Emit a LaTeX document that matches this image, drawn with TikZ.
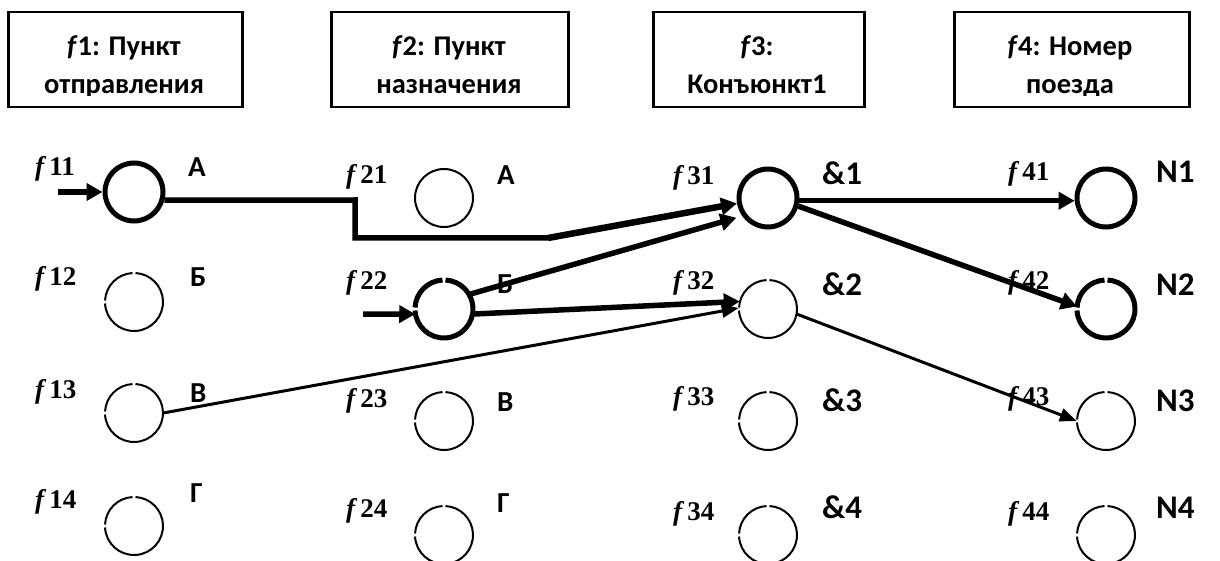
\documentclass[tikz,border=0pt]{standalone}
\usepackage{fontspec}
\setmainfont{Liberation Serif}
\newfontfamily\hdrfont{Carlito}
\usetikzlibrary{arrows.meta}
\newcommand{\gapcircle}[3]{%
  \node[circ] (#1) at (#2) {};
  \draw[line width=#3] ([shift={(93:29)}]#1.center) arc[start angle=93,end angle=177,radius=29];
  \draw[line width=#3] ([shift={(183:29)}]#1.center) arc[start angle=183,end angle=447,radius=29];
}
\newcommand{\fl}[1]{\kern2pt\textit{f}\kern3pt#1}
\begin{document}
\begin{tikzpicture}[x=1pt,y=1pt,
  boxst/.style={draw,line width=2.5pt,minimum height=95pt,inner sep=0pt,anchor=north west},
  hdr/.style={font=\hdrfont\bfseries\fontsize{28.5}{32}\selectfont,inner sep=0pt,anchor=base},
  flbl/.style={font=\bfseries\fontsize{27}{30}\selectfont,inner sep=0pt,anchor=base west},
  let/.style={font=\hdrfont\bfseries\fontsize{29}{32}\selectfont,inner sep=0pt,anchor=base west},
  bigl/.style={font=\hdrfont\bfseries\fontsize{33}{36}\selectfont,inner sep=0pt,anchor=base west},
  circ/.style={circle,minimum size=58pt,inner sep=0pt},
  thickcirc/.style={circ,draw,line width=5pt},
  thincirc/.style={circ,draw,line width=2pt},
  bigarrow/.style={line width=5.5pt,-{Triangle[length=16pt,width=17pt]}},
  smallarrow/.style={line width=3pt,-{Triangle[length=17pt,width=13pt]}},
  route/.style={line width=5.5pt}
]
\useasboundingbox (0,0) rectangle (1220,-561);

% header boxes
\node[boxst,minimum width=234pt] (box1) at (7,-11) {};
\node[boxst,minimum width=237pt] (box2) at (330,-11) {};
\node[boxst,minimum width=211pt] (box3) at (652,-11) {};
\node[boxst,minimum width=235pt] (box4) at (953,-11) {};
\begin{scope}
\clip (0,-11) rectangle (1220,-96);
\node[hdr] (h1a) at (124,-56) {\textit{f}1: Пункт};
\node[hdr] (h1b) at (124,-94) {отправления};
\node[hdr] (h2a) at (449,-56) {\textit{f}2: Пункт};
\node[hdr] (h2b) at (449,-94) {назначения};
\node[hdr] (h3a) at (757,-56) {\textit{f}3:};
\node[hdr] (h3b) at (757,-94) {Конъюнкт1};
\node[hdr] (h4a) at (1070,-56) {\textit{f}4: Номер};
\node[hdr] (h4b) at (1070,-94) {поезда};
\end{scope}

% circles
\node[thickcirc] (c11) at (134,-192) {};
\gapcircle{c12}{134,-302}{2pt}
\gapcircle{c13}{134,-413}{2pt}
\gapcircle{c14}{134,-526}{2pt}
\node[thincirc] (c21) at (444,-198) {};
\gapcircle{c22}{444,-309}{5pt}
\gapcircle{c23}{444,-421}{2pt}
\gapcircle{c24}{444,-535}{2pt}
\node[thickcirc] (c31) at (768,-198) {};
\gapcircle{c32}{768,-309}{2pt}
\gapcircle{c33}{768,-421}{2pt}
\gapcircle{c34}{768,-535}{2pt}
\node[thickcirc] (c41) at (1106,-198) {};
\gapcircle{c42}{1106,-309}{5pt}
\gapcircle{c43}{1106,-421}{2pt}
\gapcircle{c44}{1106,-535}{2pt}

% f labels
\node[flbl] (l11) at (33,-176) {\fl{11}};
\node[flbl] (l12) at (33,-285) {\fl{12}};
\node[flbl] (l13) at (33,-398) {\fl{13}};
\node[flbl] (l14) at (33,-508) {\fl{14}};
\node[flbl] (l21) at (344,-184) {\fl{21}};
\node[flbl] (l22) at (344,-289) {\fl{22}};
\node[flbl] (l23) at (344,-407) {\fl{23}};
\node[flbl] (l24) at (344,-517) {\fl{24}};
\node[flbl] (l31) at (671,-185) {\fl{31}};
\node[flbl] (l32) at (671,-289) {\fl{32}};
\node[flbl] (l33) at (671,-405) {\fl{33}};
\node[flbl] (l34) at (671,-520) {\fl{34}};
\node[flbl] (l41) at (1006,-181) {\fl{41}};
\node[flbl] (l42) at (1006,-289) {\fl{42}};
\node[flbl] (l43) at (1006,-405) {\fl{43}};
\node[flbl] (l44) at (1006,-520) {\fl{44}};

% value labels
\node[let] (v11) at (188,-177) {А};
\node[let] (v12) at (190,-287) {Б};
\node[let] (v13) at (190,-402) {В};
\node[let] (v14) at (190,-502) {Г};
\node[let] (v21) at (497,-185) {А};
\node[let] (v23) at (497,-411) {В};
\node[let] (v24) at (497,-512) {Г};
\node[bigl] (v31) at (822,-185) {\&1};
\node[bigl] (v32) at (822,-295) {\&2};
\node[bigl] (v33) at (822,-411) {\&3};
\node[bigl] (v34) at (822,-518) {\&4};
\node[bigl] (v41) at (1156,-183) {N1};
\node[bigl] (v42) at (1156,-295) {N2};
\node[bigl] (v43) at (1156,-411) {N3};
\node[bigl] (v44) at (1156,-518) {N4};
% label Б of f22 lies under the connectors
\node[let] (v22) at (497,-294) {Б};

% connectors
\coordinate (in1) at (58,-192);
\coordinate (in2) at (363,-314);
\coordinate (b1) at (355,-200);
\coordinate (b2) at (355,-238);
\coordinate (b3) at (548,-238);
\draw[bigarrow] (in1) -- (c11.west);
\draw[route,line join=miter] (c11.-15) -- (b1) -- (b2) -- (b3);
\draw[bigarrow,line width=6.5pt] (b3) -- (c31.190);
\draw[bigarrow] (in2) -- (c22.190);
\draw[bigarrow,shorten >=6pt] (c22.30) -- (c31.215);
\draw[bigarrow] (c22.-10) -- (c32.165);
\draw[smallarrow] (c13.0) -- (c32.178);
\draw[bigarrow] (c31.-5) -- (c41.185);
\draw[bigarrow] (c31.-15) -- (c42.175);
\draw[smallarrow] (c32.-10) -- (c43.180);
\end{tikzpicture}
\end{document}
